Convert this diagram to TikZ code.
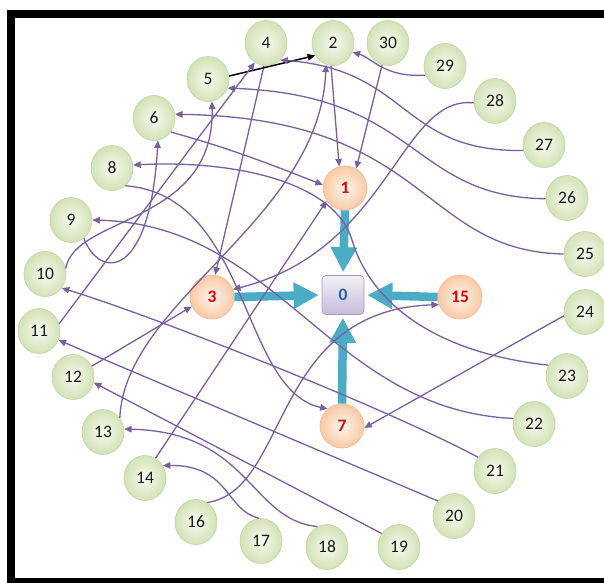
\documentclass[tikz,border=0pt]{standalone}
\usepackage{fontspec}
\setmainfont{Carlito}
\usetikzlibrary{arrows.meta,shapes.geometric}
\definecolor{linkc}{HTML}{7A5FA0}
\definecolor{aquac}{HTML}{4BACC6}
\definecolor{gin}{HTML}{F7FAF0}
\definecolor{gout}{HTML}{D3E2B6}
\definecolor{gbord}{HTML}{C6D5AA}
\definecolor{oin}{HTML}{FFF6EF}
\definecolor{oout}{HTML}{F8C9A3}
\definecolor{obord}{HTML}{EFBE97}
\definecolor{ored}{HTML}{E00000}
\definecolor{ztop}{HTML}{F3F0F8}
\definecolor{zbot}{HTML}{C6BCDA}
\definecolor{zbord}{HTML}{A49CB6}
\definecolor{zblue}{HTML}{2463A6}
\begin{document}
\begin{tikzpicture}[x=1pt,y=-1pt,
  numfont/.style={font=\fontsize{17.5}{19}\selectfont},
  gnode/.style={ellipse, minimum width=42pt, minimum height=45pt, inner sep=0pt,
    draw=gbord, line width=0.7pt, inner color=gin, outer color=gout, text=black!90, numfont},
  onode/.style={circle, minimum size=44pt, inner sep=0pt,
    draw=obord, line width=0.7pt, inner color=oin, outer color=oout, text=ored,
    font=\fontsize{17.5}{19}\selectfont\bfseries},
  zbox/.style={rectangle, rounded corners=4pt, minimum width=42pt, minimum height=39pt,
    inner sep=0pt, draw=zbord, line width=0.7pt, top color=ztop, bottom color=zbot,
    text=zblue, font=\fontsize{17.5}{19}\selectfont\bfseries},
  link/.style={draw=linkc, line width=1.3pt, -{Triangle[length=7.5pt,width=6.5pt]}},
  blink/.style={draw=black, line width=1.5pt, -{Triangle[length=7.5pt,width=6.5pt]}},
  fat/.style={draw=aquac, line width=8.5pt, -{Triangle[length=25pt,width=25pt]}, shorten >=3pt}]
\useasboundingbox (0,0) rectangle (604,582);
\clip (0,0) rectangle (604,582);
% frame
\fill[white] (0,0) rectangle (604,582);
\fill[black] (7,10) rectangle (620,600);
\fill[white] (15,18) rectangle (620,578);
% nodes
\node[zbox] (n0) at (343,295) {0};
\node[onode] (n1) at (345,188) {1};
\node[onode] (n3) at (212,297) {3};
\node[onode] (n7) at (342,426) {7};
\node[onode] (n15) at (460,297) {15};
\node[gnode] (n2) at (333,43) {2};
\node[gnode] (n4) at (266,43) {4};
\node[gnode] (n5) at (208,79) {5};
\node[gnode] (n6) at (154,118) {6};
\node[gnode] (n8) at (112,168) {8};
\node[gnode] (n9) at (71,220) {9};
\node[gnode] (n10) at (45,274) {10};
\node[gnode] (n11) at (39,331) {11};
\node[gnode] (n12) at (73,377) {12};
\node[gnode] (n13) at (103,432) {13};
\node[gnode] (n14) at (145,478) {14};
\node[gnode] (n16) at (196,522) {16};
\node[gnode] (n17) at (261,541) {17};
\node[gnode] (n18) at (327,547) {18};
\node[gnode] (n19) at (399,547) {19};
\node[gnode] (n20) at (454,516) {20};
\node[gnode] (n21) at (495,471) {21};
\node[gnode] (n22) at (534,424) {22};
\node[gnode] (n23) at (567,376) {23};
\node[gnode] (n24) at (585,312) {24};
\node[gnode] (n25) at (585,254) {25};
\node[gnode] (n26) at (567,198) {26};
\node[gnode] (n27) at (544,145) {27};
\node[gnode] (n28) at (495,101) {28};
\node[gnode] (n29) at (445,66) {29};
\node[gnode] (n30) at (388,43) {30};
% thick arrows to 0
\draw[fat] (n1.south) -- (n0.north);
\draw[fat] (n3.east) -- (n0.west);
\draw[fat] (n15.west) -- (n0.east);
\draw[fat] (n7.north) -- (n0.south);
% purple connectors
\draw[link] (n2.265) -- (n1.105);
\draw[link] (n30.255) -- (n1.60);
\draw[link] (n6.-40) .. controls (230,148) and (280,168) .. (n1.172);
\draw[link] (n14.62) -- (n1.215);
\draw[link] (n4.265) -- (n3.82);
\draw[link] (n12.30) -- (n3.205);
\draw[link] (n28.185) .. controls (400,95) and (390,250) .. (n3.20);
\draw[link] (n8.-53) .. controls (250,195) and (240,390) .. (n7.130);
\draw[link] (n24.190) -- (n7.-5);
\draw[link] (n16.60) .. controls (290,490) and (270,310) .. (n15.200);
\draw[blink] (n5.8) -- (n2.215);
\draw[link] (n29.205) .. controls (385,78) and (372,58) .. (n2.-25);
\draw[link] (n27.195) .. controls (400,152) and (410,70) .. (n4.-50);
\draw[link] (n26.182) .. controls (410,197) and (420,95) .. (n5.-25);
\draw[link] (n25.180) .. controls (420,251) and (430,118) .. (n6.10);
\draw[link] (n23.150) .. controls (430,352) and (370,300) .. (352,240) .. controls (334,180) and (230,160) .. (n8.8);
\draw[link] (n22.165) .. controls (330,410) and (280,225) .. (n9.0);
\draw[link] (n21.141) .. controls (380,405) and (150,315) .. (n10.-40);
\draw[link] (n20.137) -- (n11.-25);
\draw[link] (n19.142) -- (n12.-15);
\draw[link] (n18.115) .. controls (250,520) and (250,432) .. (n13.8);
\draw[link] (n17.95) .. controls (225,510) and (230,465) .. (n14.35);
\draw[link] (n13.40) .. controls (125,300) and (320,220) .. (n2.252);
\draw[link] (n11.20) -- (n4.240);
\draw[link] (n10.15) .. controls (75,215) and (215,225) .. (n5.-80);
\draw[link] (n9.-55) .. controls (100,280) and (150,280) .. (n6.-80);
\end{tikzpicture}
\end{document}
